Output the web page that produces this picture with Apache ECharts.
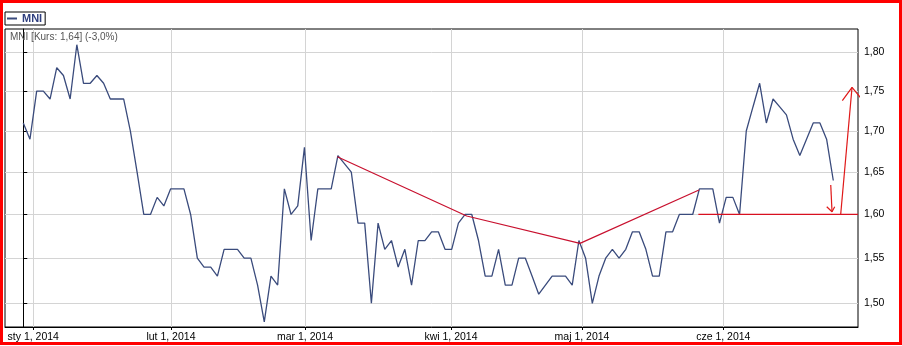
<!DOCTYPE html>
<html><head><meta charset="utf-8">
<script src="https://cdn.jsdelivr.net/npm/echarts@6/dist/echarts.min.js"></script>
<style>
html,body{margin:0;padding:0;background:#fff;}
#wrap{position:relative;width:902px;height:346px;}
#chart{position:absolute;left:0;top:0;width:902px;height:346px;}
#frame{position:absolute;left:0;top:0;width:902px;height:345px;box-sizing:border-box;border:3px solid #f00;pointer-events:none;}
</style></head><body>
<div id="wrap"><div id="chart"></div><div id="frame"></div></div>
<script>
// Daily closes, one per trading session, starting 27 Dec 2013 (index 0)
const seriesName = 'MNI';
const titleText = 'MNI [Kurs: 1,64] (-3,0%)';
const closes = [
  1.71,1.69,1.75,1.75,1.74,1.78,1.77,1.74,1.81,1.76,
  1.76,1.77,1.76,1.74,1.74,1.74,1.70,1.65,1.60,1.60,
  1.62,1.61,1.63,1.63,1.63,1.60,1.55,1.54,1.54,1.53,
  1.56,1.56,1.56,1.55,1.55,1.52,1.48,1.53,1.52,1.63,
  1.60,1.61,1.68,1.57,1.63,1.63,1.63,1.67,1.66,1.65,
  1.59,1.59,1.50,1.59,1.56,1.57,1.54,1.56,1.52,1.57,
  1.57,1.58,1.58,1.56,1.56,1.59,1.60,1.60,1.57,1.53,
  1.53,1.56,1.52,1.52,1.55,1.55,1.53,1.51,1.52,1.53,
  1.53,1.53,1.52,1.57,1.55,1.50,1.53,1.55,1.56,1.55,
  1.56,1.58,1.58,1.56,1.53,1.53,1.58,1.58,1.60,1.60,
  1.60,1.63,1.63,1.63,1.59,1.62,1.62,1.60,1.70,1.73,
  1.76,1.71,1.74,1.73,1.72,1.69,1.67,1.69,1.71,1.71,
  1.69,1.64
];
// Month boundaries expressed in session index units
const monthLabels = ['sty 1, 2014','lut 1, 2014','mar 1, 2014','kwi 1, 2014','maj 1, 2014','cze 1, 2014'];
const monthTickPos = [1.49, 22.06, 42.08, 63.89, 83.46, 104.57];
const yTickValues = [1.50, 1.55, 1.60, 1.65, 1.70, 1.75, 1.80];
const yTickLabels = ['1,50','1,55','1,60','1,65','1,70','1,75','1,80'];
const xRange = [-2.73, 124.69];
const yRange = [1.4744, 1.8308];
// Hand-drawn annotations, in [session index, price]
const trendLine = [[46.91,1.6685],[66.24,1.5982],[83.16,1.5668],[100.94,1.6287]];
const supportLine = [[100.84,1.6002],[124.69,1.6002]];
const downArrow = [[120.62,1.6346],[120.81,1.6032]];
const downArrowHead = [[120.02,1.6090],[120.81,1.6032],[121.21,1.6090]];
const upArrow = [[122.11,1.6005],[123.80,1.7549]];
const upArrowHead = [[122.35,1.7379],[123.80,1.7549],[125.14,1.7409]];

const FONT = '"Liberation Sans", Arial, sans-serif';
const ln = Math.log;
const mainData = closes.map((v, i) => [i, ln(v)]);
function annot(name, pts, color) {
  return {
    name: name, type: 'line', data: pts.map(p => [p[0], ln(p[1])]),
    symbol: 'none', clip: false, silent: true, z: 5, animation: false,
    lineStyle: { color: color, width: 1.2 }
  };
}
function nearestLabel(val, positions, labels) {
  let best = 0, bd = Infinity;
  positions.forEach((p, i) => { const d = Math.abs(p - val); if (d < bd) { bd = d; best = i; } });
  return labels[best];
}
const yTickLn = yTickValues.map(ln);

const chart = echarts.init(document.getElementById('chart'), null, { renderer: 'canvas' });
chart.setOption({
  animation: false,
  backgroundColor: '#fff',
  textStyle: { fontFamily: FONT },
  title: {
    text: titleText, left: 10, top: 32, padding: 0,
    textStyle: { fontSize: 10, fontWeight: 'normal', color: '#555', fontFamily: FONT }
  },
  legend: {
    data: [seriesName], left: 5, top: 12, padding: [1, 3, 1, 2],
    borderColor: '#000', borderWidth: 1, borderRadius: 0,
    icon: 'rect', itemWidth: 10, itemHeight: 2, selectedMode: false,
    textStyle: { fontSize: 11, fontWeight: 'bold', color: '#2f3f7f', fontFamily: FONT }
  },
  grid: {
    left: 5, right: 44, top: 29, bottom: 19, outerBoundsMode: 'none', containLabel: false,
    show: true, borderColor: '#000', borderWidth: 1, backgroundColor: 'transparent'
  },
  xAxis: {
    type: 'value', min: xRange[0], max: xRange[1],
    axisLine: { show: true, onZero: false, lineStyle: { color: '#000', width: 1 } },
    axisTick: { show: true, length: 3, lineStyle: { color: '#000' }, customValues: monthTickPos },
    axisLabel: {
      customValues: monthTickPos, margin: 5, fontSize: 10.5, color: '#000', fontFamily: FONT,
      formatter: v => nearestLabel(v, monthTickPos, monthLabels)
    },
    splitLine: { show: true, lineStyle: { color: '#d4d4d4', width: 1 } }
  },
  yAxis: {
    type: 'value', position: 'right', min: ln(yRange[0]), max: ln(yRange[1]), scale: true,
    axisLine: { show: true, lineStyle: { color: '#000', width: 1 } },
    axisTick: { show: true, length: 4, lineStyle: { color: '#000' }, customValues: yTickLn },
    axisLabel: {
      customValues: yTickLn, margin: 6, fontSize: 10.5, color: '#000', fontFamily: FONT,
      formatter: v => nearestLabel(v, yTickLn, yTickLabels)
    },
    splitLine: { show: true, lineStyle: { color: '#d4d4d4', width: 1 } }
  },
  series: [
    {
      name: seriesName, type: 'line', data: mainData, symbol: 'none', z: 3,
      lineStyle: { color: '#3a4b7c', width: 1.3 }, itemStyle: { color: '#3a4b7c' }
    },
    annot('trend', trendLine, '#c8102e'),
    annot('support', supportLine, '#d81020'),
    annot('down', downArrow, '#e01818'),
    annot('downHead', downArrowHead, '#e01818'),
    annot('up', upArrow, '#e01818'),
    annot('upHead', upArrowHead, '#e01818')
  ]
});
</script>
</body></html>
